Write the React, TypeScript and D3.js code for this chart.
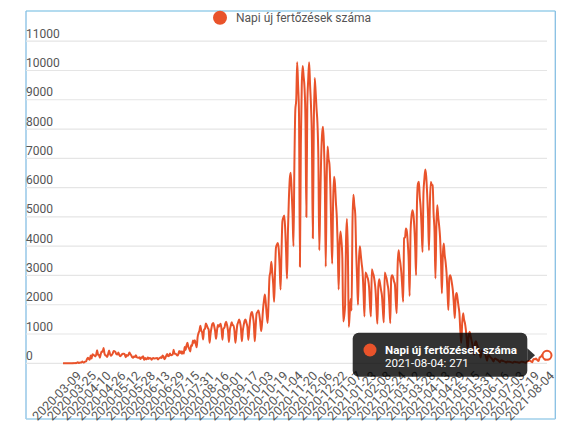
import React from "react";
import * as d3 from "d3";

const seriesName = "Napi új fertőzések száma";
const startDate = "2020-02-26";

// Daily new cases from 2020-02-26 to 2021-08-04 (rows are Mon..Sun weeks, first row starts Wed)
const dailyCases: number[] = [
  1, 0, 2, 0, 0,
  0, 0, 1, 0, 3, 2, 6,
  3, 10, 5, 17, 40, 12, 22,
  27, 30, 59, 31, 31, 59, 66,
  143, 186, 144, 123, 263, 160, 308,
  293, 263, 236, 294, 445, 300, 280,
  193, 321, 402, 394, 523, 332, 271,
  261, 214, 323, 434, 319, 256, 292,
  338, 418, 416, 374, 306, 304, 365,
  287, 244, 266, 306, 327, 328, 298,
  207, 280, 257, 284, 368, 319, 273,
  214, 190, 232, 215, 274, 215, 195,
  190, 209, 147, 205, 190, 238, 120,
  180, 135, 150, 197, 151, 179, 175,
  118, 166, 184, 162, 168, 172, 185,
  131, 161, 184, 205, 181, 264, 230,
  142, 182, 260, 320, 240, 250, 332,
  278, 284, 298, 460, 323, 330, 299,
  263, 300, 422, 354, 415, 322, 400,
  333, 555, 454, 616, 698, 559, 486,
  406, 614, 594, 777, 698, 787, 663,
  548, 889, 1030, 1112, 1284, 1119, 1044,
  816, 1151, 1182, 1356, 1295, 1210, 1150,
  703, 1000, 1200, 1345, 1378, 1267, 1100,
  835, 1100, 1307, 1250, 1300, 1350, 1150,
  805, 1200, 1200, 1350, 1415, 1300, 1100,
  728, 1145, 1280, 1400, 1300, 1302, 1100,
  700, 1000, 1300, 1400, 1500, 1400, 1200,
  750, 1100, 1300, 1450, 1500, 1380, 1250,
  800, 1150, 1500, 1700, 1750, 1600, 1350,
  750, 1250, 1700, 1750, 1800, 1650, 1400,
  1100, 1400, 1850, 2150, 2350, 2050, 1650,
  1380, 2100, 2950, 3130, 3470, 3100, 2700,
  2100, 3100, 3950, 4050, 4110, 3900, 3300,
  2520, 3800, 4850, 4980, 5050, 4600, 3800,
  2890, 4500, 5600, 6300, 6510, 5900, 5100,
  4000, 6800, 8650, 9000, 10280, 9500, 8500,
  3300, 7500, 9500, 10150, 9800, 9400, 8300,
  5000, 8800, 9700, 10280, 9500, 8800, 7600,
  4270, 8000, 9740, 9300, 8700, 8200, 7000,
  3860, 5500, 7000, 7800, 8080, 7500, 6200,
  3300, 6200, 7400, 7000, 6800, 6000, 4500,
  3400, 5500, 6370, 6140, 5510, 5000, 4000,
  2520, 4000, 4500, 4200, 3600, 1430, 1600,
  2000, 4200, 4930, 3800, 1240, 1700, 2200,
  1800, 4800, 5760, 5400, 5100, 3800, 2900,
  2000, 3500, 4000, 3700, 3400, 3100, 2400,
  1600, 3100, 3050, 2950, 2850, 2600, 2000,
  1600, 3210, 3100, 3000, 2800, 2500, 1900,
  1350, 2600, 2870, 2700, 2500, 2300, 1800,
  1400, 3100, 3000, 2900, 2700, 2500, 2000,
  1370, 2900, 3010, 2950, 2800, 2700, 2100,
  1710, 3360, 3860, 3600, 3400, 3100, 2600,
  2100, 4270, 4300, 4600, 4500, 4100, 3500,
  2300, 4500, 5000, 5230, 5100, 4700, 4000,
  3010, 5500, 6130, 6200, 5680, 5300, 4600,
  3800, 5800, 6300, 6620, 6380, 5800, 5000,
  3860, 5500, 6190, 6100, 6080, 5100, 4500,
  2900, 4700, 5400, 5000, 4700, 4300, 3500,
  2390, 3700, 4090, 3700, 3460, 3100, 2500,
  1820, 2900, 3010, 2900, 2700, 2450, 2000,
  1540, 2280, 2400, 2200, 1950, 1710, 1100,
  700, 1370, 1710, 1500, 1370, 1140, 800,
  500, 900, 1080, 950, 800, 650, 450,
  300, 700, 750, 650, 550, 450, 300,
  200, 400, 450, 420, 380, 300, 200,
  90, 250, 280, 230, 200, 170, 110,
  60, 150, 160, 140, 120, 100, 70,
  40, 90, 100, 80, 75, 60, 45,
  25, 60, 55, 50, 48, 40, 30,
  18, 45, 50, 45, 40, 35, 30,
  15, 40, 50, 55, 45, 40, 30,
  20, 55, 70, 80, 90, 80, 60,
  40, 120, 150, 140, 160, 130, 90,
  80, 200, 220, 250, 290, 250, 180,
  120, 300, 271,
];

const yTicks = [0, 1000, 2000, 3000, 4000, 5000, 6000, 7000, 8000, 9000, 10000, 11000];

const xTickLabels = [
  "2020-03-09", "2020-03-25", "2020-04-10", "2020-04-26", "2020-05-12", "2020-05-28",
  "2020-06-13", "2020-06-29", "2020-07-15", "2020-07-31", "2020-08-16", "2020-09-01",
  "2020-09-17", "2020-10-03", "2020-10-19", "2020-11-04", "2020-11-20", "2020-12-06",
  "2020-12-22", "2021-01-07", "2021-01-23", "2021-02-08", "2021-02-24", "2021-03-12",
  "2021-03-28", "2021-04-13", "2021-04-29", "2021-05-15", "2021-05-31", "2021-06-16",
  "2021-07-03", "2021-07-19", "2021-08-04",
];

const hoverDate = "2021-08-04";
const hoverValue = 271;

const COLOR = "#E9532B";
const FONT = "Roboto, 'Helvetica Neue', Arial, sans-serif";

export default function App() {
  const W = 575;
  const H = 432;
  const parse = d3.utcParse("%Y-%m-%d");
  const t0 = parse(startDate) as Date;
  const dates = dailyCases.map((_, i) => d3.utcDay.offset(t0, i));

  const x = d3.scaleUtc().domain([dates[0], dates[dates.length - 1]]).range([63, 547]);
  const y = d3.scaleLinear().domain([0, 11000]).range([363.3, 41.2]);

  const line = d3
    .line<number>()
    .x((_, i) => x(dates[i]))
    .y((d) => y(d))
    .curve(d3.curveMonotoneX);

  const hx = x(parse(hoverDate) as Date);
  const hy = y(hoverValue);

  const tipX = 352.7;
  const tipY = 332.7;
  const tipW = 174.6;
  const tipH = 44;

  return (
    <svg
      width={W}
      height={H}
      style={{ position: "absolute", left: 0, top: 0, background: "#fff" }}
      fontFamily={FONT}
    >
      <line x1={26} x2={555.3} y1={11} y2={11} stroke="#b3dbef" strokeWidth={2} />
      <line x1={26} x2={26} y1={11} y2={419} stroke="#86bfe3" strokeWidth={1.3} />
      <line x1={555.3} x2={555.3} y1={11} y2={419} stroke="#86bfe3" strokeWidth={1.3} />
      <line x1={26} x2={555.3} y1={419} y2={419} stroke="#9fcfea" strokeWidth={1.5} />

      {yTicks.map((t) => (
        <g key={t}>
          <line x1={26} x2={547} y1={y(t)} y2={y(t)} stroke="#e5e5e5" strokeWidth={1.2} />
          <text x={26} y={y(t) - 3.5} fontSize={12} fill="#555">
            {t}
          </text>
        </g>
      ))}

      {xTickLabels.map((l) => {
        const tx = x(parse(l) as Date);
        return (
          <text
            key={l}
            transform={`translate(${tx + 5},373.5) rotate(-45)`}
            textAnchor="end"
            dy="0.35em"
            fontSize={12.5}
            fill="#555"
          >
            {l}
          </text>
        );
      })}

      <path d={line(dailyCases) || ""} fill="none" stroke={COLOR} strokeWidth={2} strokeLinejoin="round" />

      <circle cx={220} cy={17.8} r={7} fill={COLOR} />
      <text x={236} y={22} fontSize={12} fill="#555">
        {seriesName}
      </text>

      <circle cx={hx} cy={hy} r={4.5} fill="#fff" stroke={COLOR} strokeWidth={2} />

      <g>
        <rect x={tipX} y={tipY} width={tipW} height={tipH} rx={6} fill="rgba(0,0,0,0.8)" />
        <polygon
          points={`${tipX + tipW},${hy - 7} ${tipX + tipW + 7.7},${hy} ${tipX + tipW},${hy + 7}`}
          fill="rgba(0,0,0,0.8)"
        />
        <circle cx={370} cy={350} r={6.5} fill={COLOR} />
        <text x={385} y={353.5} fontSize={11.6} fontWeight="bold" fill="#fff">
          {seriesName}
        </text>
        <text x={385} y={367} fontSize={11.6} fill="#fff">
          {`${hoverDate}: ${hoverValue}`}
        </text>
      </g>
    </svg>
  );
}
